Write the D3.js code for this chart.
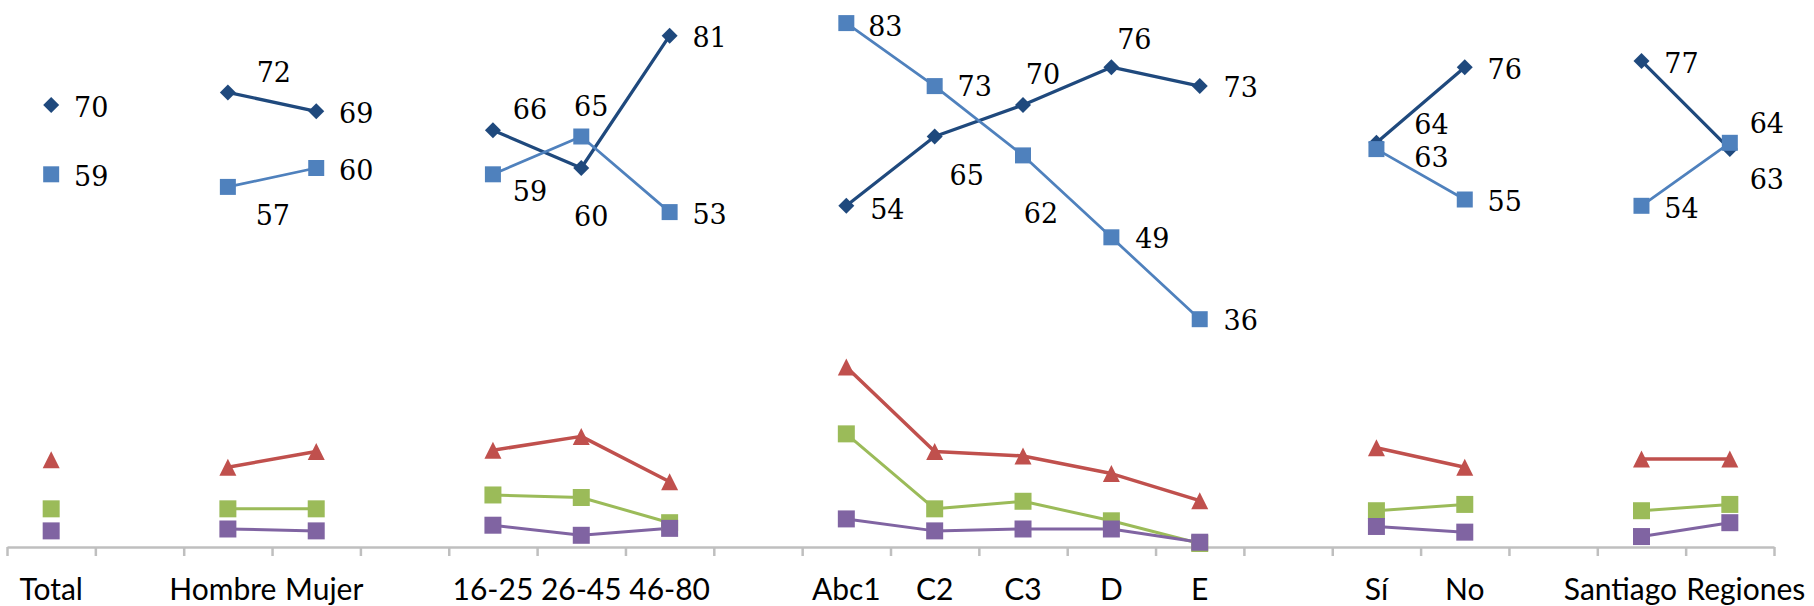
<!DOCTYPE html>
<html>
<head>
<meta charset="utf-8">
<script src="https://cdn.jsdelivr.net/npm/d3@7/dist/d3.min.js"></script>
<style>
  html, body { margin: 0; padding: 0; background: #ffffff; }
  svg { display: block; }
</style>
</head>
<body>
<svg id="chart" width="1814" height="606"></svg>
<script>
// Category slots along the x axis (empty strings are spacer slots between groups)
const categories = ["Total", "", "Hombre", "Mujer", "", "16-25", "26-45", "46-80", "",
  "Abc1", "C2", "C3", "D", "E", "", "Sí", "No", "", "Santiago", "Regiones"];

// Series values per slot (null = spacer, breaks the line)
const seriesDark   = [70, null, 72, 69, null, 66, 60, 81, null, 54, 65, 70, 76, 73, null, 64, 76, null, 77, 63];
const seriesLight  = [59, null, 57, 60, null, 59, 65, 53, null, 83, 73, 62, 49, 36, null, 63, 55, null, 54, 64];
const seriesRed    = [13.7, null, 12.5, 15.0, null, 15.2, 17.4, 10.2, null, 28.4, 15.0, 14.3, 11.5, 7.2, null, 15.6, 12.5, null, 13.8, 13.8];
const seriesGreen  = [5.9, null, 5.9, 5.9, null, 8.1, 7.7, 3.7, null, 17.8, 5.9, 7.1, 4.0, 0.4, null, 5.6, 6.6, null, 5.6, 6.6];
const seriesPurple = [2.4, null, 2.7, 2.4, null, 3.3, 1.7, 2.8, null, 4.3, 2.4, 2.7, 2.7, 0.6, null, 3.1, 2.2, null, 1.5, 3.7];

// Data-label placement relative to each marker: [dx, dy]
const R = [40, 2];
const darkLabelNudge  = [R, null, [46, -20], R, null, [37, -21], [10, 48], R, null,
  [41, 3], [32, 39], [20, -31], [23, -28], [41, 1], null, [55, -19], R, null, R, [37, 30]];
const lightLabelNudge = [R, null, [45, 28], R, null, [37, 17], [10, -30], R, null,
  [39, 3], [40, 0], [18, 58], [41, 1], [41, 1], null, [55, 8], R, null, R, [37, -20]];
// Horizontal shift of crowded category labels so neighbours don't collide
const categoryLabelShift = [0, 0, -5, 8, 0, 0, 0, 0, 0, 0, 0, 0, 0, 0, 0, 0, 0, 0, -21, 16];

const svg = d3.select("#chart");
const axisLeft = 7, axisRight = 1774, axisY = 547;

const x = d3.scaleBand().domain(d3.range(categories.length)).range([axisLeft, axisRight]).padding(0);
const cx = i => x(i) + x.bandwidth() / 2;
const y = d3.scaleLinear().domain([0, 100]).range([546, 546 - 630]);

// ---- x axis: line, boundary ticks, category labels
const xb = d3.scaleLinear().domain([0, categories.length]).range([axisLeft, axisRight]);
const tickAxis = svg.append("g")
  .attr("transform", `translate(0,${axisY})`)
  .call(d3.axisBottom(xb).tickValues(d3.range(categories.length + 1)).tickSize(9).tickSizeOuter(0).tickFormat(""));
tickAxis.select(".domain").attr("stroke", "#bfbfbf").attr("stroke-width", 2.5);
tickAxis.selectAll(".tick line").attr("stroke", "#bfbfbf").attr("stroke-width", 2.5);

const labelAxis = svg.append("g")
  .attr("transform", `translate(0,${axisY})`)
  .call(d3.axisBottom(x).tickSize(0).tickFormat(i => categories[i]));
labelAxis.select(".domain").remove();
labelAxis.selectAll(".tick text")
  .attr("x", i => categoryLabelShift[i])
  .attr("y", 53).attr("dy", 0)
  .attr("fill", "#000")
  .style("font-family", "Lato, 'Open Sans', sans-serif")
  .style("font-size", "30px");

// ---- marker shapes
const diamond = s => `M0,${-s / 2}L${s / 2},0L0,${s / 2}L${-s / 2},0Z`;
const triangle = s => `M0,${-s / 2}L${s / 2},${s / 2}L${-s / 2},${s / 2}Z`;
const square = s => `M${-s / 2},${-s / 2}h${s}v${s}h${-s}Z`;

const series = [
  { values: seriesRed,    color: "#C0504D", width: 3.5,  shape: triangle(17) },
  { values: seriesGreen,  color: "#9BBB59", width: 3,    shape: square(17) },
  { values: seriesPurple, color: "#8064A2", width: 3,    shape: square(17) },
  { values: seriesDark,   color: "#1F497D", width: 3.25, shape: diamond(16) },
  { values: seriesLight,  color: "#4F81BD", width: 2.75, shape: square(16) }
];

const line = d3.line()
  .defined(d => d.v !== null)
  .x(d => cx(d.i))
  .y(d => y(d.v));

const pts = vals => vals.map((v, i) => ({ i, v }));

// lines first
svg.append("g").selectAll("path")
  .data(series)
  .join("path")
  .attr("d", s => line(pts(s.values)))
  .attr("fill", "none")
  .attr("stroke", s => s.color)
  .attr("stroke-width", s => s.width)
  .attr("stroke-linejoin", "round");

// markers on top
series.forEach(s => {
  svg.append("g").selectAll("path")
    .data(pts(s.values).filter(d => d.v !== null))
    .join("path")
    .attr("d", s.shape)
    .attr("transform", d => `translate(${cx(d.i)},${y(d.v)})`)
    .attr("fill", s.color);
});

// ---- data labels for the two upper series
function addLabels(values, nudges) {
  svg.append("g").selectAll("text")
    .data(pts(values).filter(d => d.v !== null))
    .join("text")
    .attr("x", d => cx(d.i) + nudges[d.i][0])
    .attr("y", d => y(d.v) + nudges[d.i][1])
    .attr("dy", "0.36em")
    .attr("text-anchor", "middle")
    .attr("fill", "#000")
    .style("font-family", "'DejaVu Serif', 'Liberation Serif', serif")
    .style("font-size", "27px")
    .text(d => d3.format("d")(d.v));
}
addLabels(seriesDark, darkLabelNudge);
addLabels(seriesLight, lightLabelNudge);
</script>
</body>
</html>
